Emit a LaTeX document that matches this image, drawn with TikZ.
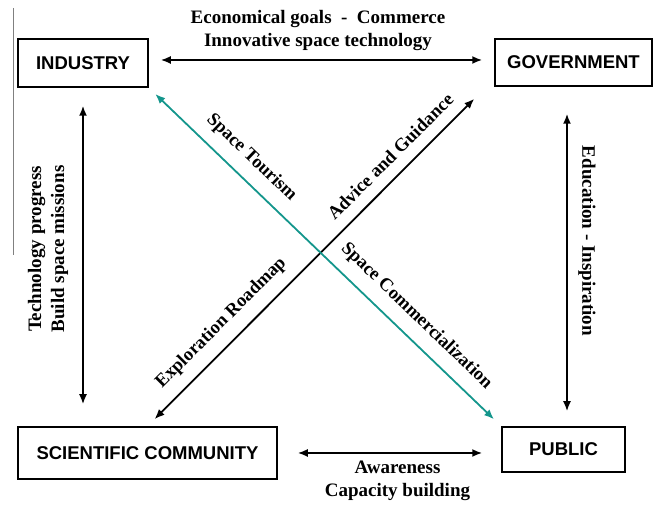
\documentclass[tikz,border=0pt]{standalone}
\usepackage{fontspec}
\setmainfont{Liberation Serif}
\newfontfamily\boxfont{Liberation Sans}
\usetikzlibrary{arrows.meta,positioning}
\definecolor{tourismteal}{RGB}{20,150,140}
\tikzset{
  actor/.style={draw, line width=1.5pt, inner sep=0pt,
    font=\boxfont\bfseries\fontsize{18.5}{22}\selectfont},
  link/.style={line width=1.8pt,
    {Latex[length=10pt,width=8pt]}-{Latex[length=10pt,width=8pt]}},
  lbl/.style={font=\bfseries\fontsize{19}{23}\selectfont, align=center},
  dlbl/.style={font=\bfseries\fontsize{18.5}{22}\selectfont, text=black,
    sloped, above=8pt}
}
\begin{document}
\begin{tikzpicture}[x=1pt,y=1pt]
  \useasboundingbox (0,0) rectangle (654,505);
  % actors
  \node[actor, minimum width=130pt, minimum height=48pt] (ind) at (83,442) {INDUSTRY};
  \node[actor, minimum width=157pt, minimum height=47pt] (gov) at (573.5,442.5) {GOVERNMENT};
  \node[actor, minimum width=259pt, minimum height=52pt] (sci) at (147.5,52) {SCIENTIFIC COMMUNITY};
  \node[actor, minimum width=123pt, minimum height=45pt] (pub) at (563.5,55.5) {PUBLIC};
  % straight links
  \coordinate (rx) at (567,250);
  \draw[link, shorten <=12pt, shorten >=12pt] ([yshift=3pt]ind.east) -- ([yshift=3pt]ind.east -| gov.west);
  \draw[link, shorten <=20pt, shorten >=19pt] (sci.east) -- (sci.east -| pub.west);
  \draw[link, shorten <=18pt, shorten >=22pt] (ind.south) -- (ind.south |- sci.north);
  \draw[link, shorten <=27pt, shorten >=15pt] (rx |- gov.south) -- (rx |- pub.north);
  % diagonal links
  \draw[link, shorten <=10pt, shorten >=17pt] (sci.north) -- ([xshift=-8pt]gov.south west)
    node[dlbl, pos=0.261] {Exploration Roadmap}
    node[dlbl, pos=0.756] {Advice and Guidance};
  \draw[link, tourismteal, shorten <=9pt, shorten >=10pt] (ind.south east) -- (pub.north west)
    node[dlbl, pos=0.251] {Space Tourism}
    node[dlbl, pos=0.719] {Space Commercialization};
  % labels
  \node[lbl] (toplbl) at (318,474.5) {Economical goals\ \ -\ \ Commerce\\Innovative space technology};
  \node[lbl] (botlbl) at (397.5,24) {Awareness\\Capacity building};
  \node[lbl, rotate=90] (leftlbl) at (48,256) {Technology progress\\Build space missions};
  \node[lbl, rotate=-90] (rightlbl) at (587,264) {Education - Inspiration};
  % margin rule
  \draw[gray, line width=0.8pt] (13,497) -- (13,250);
\end{tikzpicture}
\end{document}
